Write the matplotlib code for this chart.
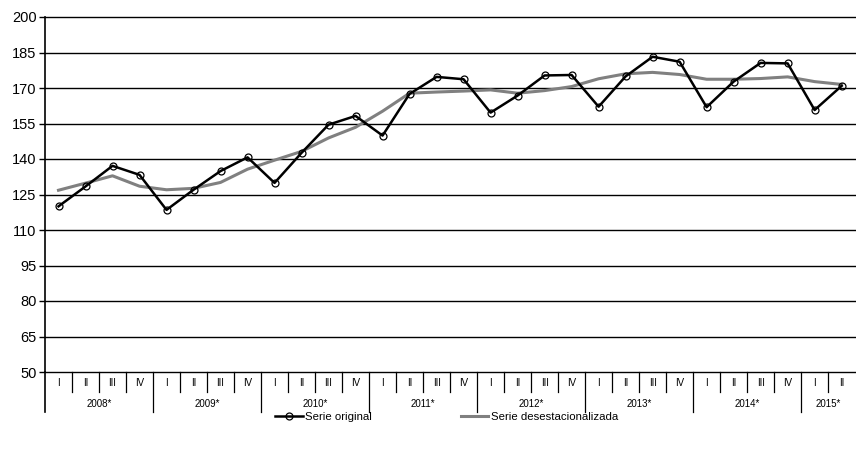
import matplotlib
matplotlib.use("Agg")
import matplotlib.pyplot as plt
import numpy as np

plt.rcParams['font.family'] = ['Liberation Sans', 'DejaVu Sans']

############################
# DATA
############################
years = ["2008*", "2009*", "2010*", "2011*", "2012*", "2013*", "2014*", "2015*"]
quarters = ["I", "II", "III", "IV"] * 7 + ["I", "II"]

serie_original = [120.0, 128.4, 137.1, 133.3, 118.5, 127.0, 134.9, 140.7,
                  129.9, 142.6, 154.5, 158.2, 149.9, 167.5, 174.7, 173.7,
                  159.6, 166.8, 175.3, 175.5, 162.1, 174.9, 183.2, 181.1,
                  161.9, 172.7, 180.6, 180.4, 160.7, 170.9]

serie_desest = [126.8, 129.8, 132.9, 128.5, 127.0, 127.6, 130.1, 135.7,
                139.5, 143.2, 148.9, 153.4, 160.2, 167.8, 168.3, 168.7,
                169.2, 167.8, 168.9, 170.6, 173.9, 176.0, 176.6, 175.7,
                173.7, 173.7, 174.0, 174.7, 172.7, 171.5]

yticks = list(range(50, 201, 15))

############################
# PLOT
############################
fig = plt.figure(figsize=(8.56, 4.53), dpi=100)
ax = fig.add_axes([45 / 856, 1 - 372 / 453, 1 - 45 / 856 - 0.001, (372 - 17) / 453])

x = np.arange(len(serie_original))
ax.plot(x, serie_desest, color="#808080", lw=2.2, label="Serie desestacionalizada", zorder=3)
ax.plot(x, serie_original, color="black", lw=1.8, marker="o", markersize=5,
        markerfacecolor="none", markeredgecolor="black", markeredgewidth=0.9,
        label="Serie original", zorder=4)

ax.set_xlim(-0.5, len(x) - 0.5)
ax.set_ylim(50, 200)
ax.set_yticks(yticks)
ax.tick_params(axis="y", labelsize=10.5, length=4, width=1, direction="out", pad=2)
for t in yticks:
    ax.axhline(t, color="black", lw=1, zorder=1, clip_on=False)

for s in ["top", "right", "bottom"]:
    ax.spines[s].set_visible(False)
ax.spines["left"].set_linewidth(1.2)
ax.set_xticks([])

# quarter / year labels below axis
trans = ax.get_xaxis_transform()
for i, q in enumerate(quarters):
    ax.text(i, -0.032, q, transform=trans, ha="center", va="center", fontsize=7)
    if i > 0:
        is_year = (i % 4 == 0)
        y_end = -0.113 if is_year else -0.056
        ax.plot([i - 0.5, i - 0.5], [0, y_end], transform=trans, color="black",
                lw=0.9, clip_on=False)
ax.plot([-0.5, -0.5], [0, -0.113], transform=trans, color="black", lw=1.2, clip_on=False)

for k, yr in enumerate(years):
    start = k * 4
    end = min(start + 4, len(x))
    ax.text((start + end - 1) / 2, -0.09, yr, transform=trans, ha="center",
            va="center", fontsize=7)

handles, labels = ax.get_legend_handles_labels()
fig.legend(handles[::-1], labels[::-1], loc="center", bbox_to_anchor=(0.522, 1 - 417 / 453),
           ncol=2, frameon=False, fontsize=8.2, handlelength=2.4, handletextpad=0.25,
           columnspacing=7.8)

fig.savefig("out.png", dpi=100)
